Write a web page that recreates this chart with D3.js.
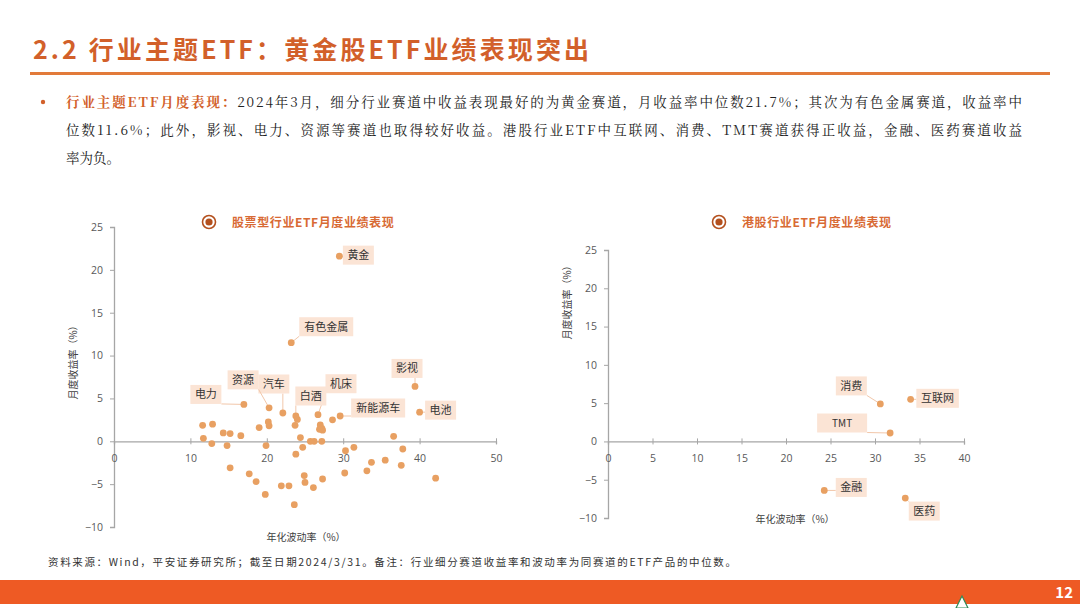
<!DOCTYPE html>
<html><head><meta charset="utf-8">
<script src="https://cdn.jsdelivr.net/npm/d3@7/dist/d3.min.js"></script>
<style>
html,body{margin:0;padding:0;background:#fff;}
svg{display:block;font-family:"Noto Sans CJK SC","Noto Sans",sans-serif;}
</style></head>
<body>
<svg id="c" width="1080" height="608"></svg>
<script>
// ---------- DATA ----------
const pageTitle = "2.2 行业主题ETF：黄金股ETF业绩表现突出";
const bulletHead = "行业主题ETF月度表现：";
const bulletLines = [
  "2024年3月，细分行业赛道中收益表现最好的为黄金赛道，月收益率中位数21.7%；其次为有色金属赛道，收益率中",
  "位数11.6%；此外，影视、电力、资源等赛道也取得较好收益。港股行业ETF中互联网、消费、TMT赛道获得正收益，金融、医药赛道收益",
  "率为负。"
];
const chart1Title = "股票型行业ETF月度业绩表现";
const chart2Title = "港股行业ETF月度业绩表现";
const yAxisTitle = "月度收益率（%）";
const xAxisTitle = "年化波动率（%）";
const footnote = "资料来源：Wind，平安证券研究所；截至日期2024/3/31。备注：行业细分赛道收益率和波动率为同赛道的ETF产品的中位数。";
const pageNo = "12";

// Stock-type industry ETFs: labeled sectors
const stockNames = ["黄金","有色金属","影视","电池","新能源车","机床","白酒","汽车","资源","电力"];
const stockNamedVol = [29.5, 23.2, 39.4, 40.0, 29.6, 26.7, 23.8, 22.1, 20.3, 17.0];
const stockNamedRet = [21.6, 11.5, 6.4, 3.4, 2.95, 3.1, 2.95, 3.3, 3.9, 4.3];
// Stock-type industry ETFs: unlabeled sectors
const stockVol = [11.6,12.9,11.7,12.8,14.3,15.2,14.8,16.6,19.0,20.2,20.3,19.9,24.0,23.7,24.4,24.7,23.8,25.7,26.2,27.0,27.2,27.3,26.9,27.2,28.6,30.3,31.4,15.2,17.7,18.6,19.8,21.9,22.9,23.6,24.9,25.0,26.1,27.3,30.2,36.6,37.8,33.7,35.5,33.1,37.6,42.1];
const stockRet = [1.86,2.0,0.35,-0.27,0.97,0.9,-0.5,0.66,1.6,2.25,1.8,-0.5,2.55,1.86,0.43,-0.7,-1.5,0,0,1.9,1.5,1.3,1.4,0,2.5,-1.1,-0.7,-3.1,-3.8,-4.7,-6.2,-5.2,-5.2,-7.4,-4.0,-4.8,-5.4,-4.4,-3.7,0.58,-0.9,-2.45,-2.2,-3.45,-2.8,-4.3];

// HK industry ETFs
const hkNames = ["消费","互联网","TMT","金融","医药"];
const hkVol = [30.6, 34.0, 31.7, 24.3, 33.4];
const hkRet = [4.9, 5.5, 1.1, -6.4, -7.4];

const leftXTicks = [0,10,20,30,40,50];
const leftYTicks = [-10,-5,0,5,10,15,20,25];
const rightXTicks = [0,5,10,15,20,25,30,35,40];
const rightYTicks = [-10,-5,0,5,10,15,20,25];

// ---------- STYLE / LAYOUT ----------
const C = {orange:"#D2602A", line:"#E27A3A", dot:"#E8A062", box:"#FBE4D5", axis:"#A6A6A6", tick:"#595959", lead:"#F2C7AA", bar:"#EE5A24"};
const labelOffsets = { // label centre relative to point (px)
  "黄金":[19,-1],"有色金属":[35,-16],"影视":[-8,-18],"电池":[21,-2],"新能源车":[38,-8],
  "机床":[23,-31],"白酒":[15,-20],"汽车":[-9,-29],"资源":[-26,-28],"电力":[-38,-10],
  "消费":[-29,-18],"互联网":[27,-1],"TMT":[-48,-10],"金融":[27,-3],"医药":[19,13]
};

const svg = d3.select("#c");

// Title
svg.append("text").attr("x",33).attr("y",59).attr("fill",C.orange)
  .attr("font-size",25).attr("font-weight","bold")
  .attr("textLength",556).attr("lengthAdjust","spacing").text(pageTitle);
svg.append("rect").attr("x",30).attr("y",72).attr("width",1020).attr("height",3).attr("fill",C.line);

// Bullet text
svg.append("circle").attr("cx",43).attr("cy",102).attr("r",2.2).attr("fill",C.orange);
const lineY = [107,135,163];
bulletLines.forEach((s,i)=>{
  const t = svg.append("text").attr("x",66).attr("y",lineY[i]).attr("font-size",13.5).attr("fill","#222")
    .style("font-family","'Noto Serif CJK SC','DejaVu Serif','Liberation Serif',serif");
  if(i===0){
    t.append("tspan").attr("fill",C.orange).attr("font-weight","bold").text(bulletHead);
  }
  t.append("tspan").text(s);
  if(i<2) t.attr("textLength",956).attr("lengthAdjust","spacing");
});

// Chart builder
function chart(o){
  const x = d3.scaleLinear().domain(o.xd).range(o.xr);
  const y = d3.scaleLinear().domain(o.yd).range(o.yr);
  const g = svg.append("g");
  // title
  const tx = o.titleX;
  g.append("circle").attr("cx",tx).attr("cy",222).attr("r",6.5).attr("fill","#fff").attr("stroke","#B4501E").attr("stroke-width",1.6);
  g.append("circle").attr("cx",tx).attr("cy",222).attr("r",3.6).attr("fill","#B4501E");
  g.append("text").attr("x",tx+23).attr("y",227).attr("font-size",12).attr("font-weight","bold")
    .attr("fill","#D86A34").attr("letter-spacing",0.6).text(o.title);
  // y axis
  const ya = g.append("g").attr("transform",`translate(${o.xr[0]},0)`)
    .call(d3.axisLeft(y).tickValues(o.yt).tickSize(4).tickPadding(7).tickFormat(d3.format("d")));
  // x axis at y=0
  const xa = g.append("g").attr("transform",`translate(0,${y(0)})`)
    .call(d3.axisBottom(x).tickValues(o.xt).tickSize(3).tickPadding(10).tickFormat(d3.format("d")));
  [ya,xa].forEach(a=>{
    a.select(".domain").attr("stroke",C.axis).attr("stroke-width",1.3);
    a.selectAll(".tick line").attr("stroke",C.axis);
    a.selectAll(".tick text").attr("fill",C.tick).attr("font-size",10.5)
      .style("font-family","'Open Sans','DejaVu Sans',sans-serif");
  });
  xa.selectAll(".tick line").attr("y1",-3).attr("y2",3);
  // axis titles
  g.append("text").attr("transform",`translate(${o.yTitleX},${o.yTitleY}) rotate(-90)`)
    .attr("text-anchor","middle").attr("font-size",10).attr("fill","#404040").text(yAxisTitle);
  g.append("text").attr("x",o.xTitleX).attr("y",o.xTitleY).attr("text-anchor","middle")
    .attr("font-size",10).attr("fill","#404040").text(xAxisTitle);
  // unlabeled points
  if(o.vol){
    g.selectAll("circle.p").data(o.vol.map((v,i)=>[v,o.ret[i]])).enter().append("circle")
      .attr("cx",d=>x(d[0])).attr("cy",d=>y(d[1])).attr("r",3.4).attr("fill",C.dot);
  }
  // labeled points
  o.names.forEach((n,i)=>{
    const px = x(o.nvol[i]), py = y(o.nret[i]);
    const off = labelOffsets[n];
    const cx = px+off[0], cy = py+off[1];
    const fs = 11;
    const w = (n==="TMT") ? 50 : n.length*11.5+8, h = 19;
    // leader
    const ex = cx + Math.sign(px-cx)*Math.min(Math.abs(px-cx), w/2);
    const ey = cy + Math.sign(py-cy)*Math.min(Math.abs(py-cy), h/2);
    g.append("line").attr("x1",px).attr("y1",py).attr("x2",ex).attr("y2",ey)
      .attr("stroke",C.lead).attr("stroke-width",1);
    g.append("rect").attr("x",cx-w/2).attr("y",cy-h/2).attr("width",w).attr("height",h).attr("fill",C.box);
    g.append("text").attr("x",cx).attr("y",cy+4).attr("text-anchor","middle").attr("font-size",n==="TMT"?10:fs)
      .attr("fill","#333").text(n);
    g.append("circle").attr("cx",px).attr("cy",py).attr("r",3.4).attr("fill",C.dot);
  });
}

chart({xd:[0,50],xr:[114,496],yd:[-10,25],yr:[527,227],xt:leftXTicks,yt:leftYTicks,
  titleX:209,title:chart1Title,yTitleX:77,yTitleY:360,xTitleX:306,xTitleY:541,
  names:stockNames,nvol:stockNamedVol,nret:stockNamedRet,vol:stockVol,ret:stockRet});
chart({xd:[0,40],xr:[608,964],yd:[-10,25],yr:[518,250],xt:rightXTicks,yt:rightYTicks,
  titleX:719,title:chart2Title,yTitleX:571,yTitleY:300,xTitleX:795,xTitleY:523,
  names:hkNames,nvol:hkVol,nret:hkRet});

// Footnote
svg.append("text").attr("x",48).attr("y",566).attr("font-size",10.5).attr("fill","#333")
  .attr("textLength",688).attr("lengthAdjust","spacing").text(footnote);

// Bottom bar
svg.append("rect").attr("x",0).attr("y",580).attr("width",1080).attr("height",24).attr("fill",C.bar);
svg.append("rect").attr("x",0).attr("y",604).attr("width",1080).attr("height",4).attr("fill","#fff");
svg.append("text").attr("x",1073).attr("y",598).attr("text-anchor","end").attr("font-size",15)
  .attr("font-weight","bold").attr("fill","#fff").text(pageNo);
svg.append("path").attr("d","M956,608 L962,596 L968,608 Z").attr("fill","#fff").attr("stroke","#2E8B57").attr("stroke-width",1.2);
</script>
</body></html>
